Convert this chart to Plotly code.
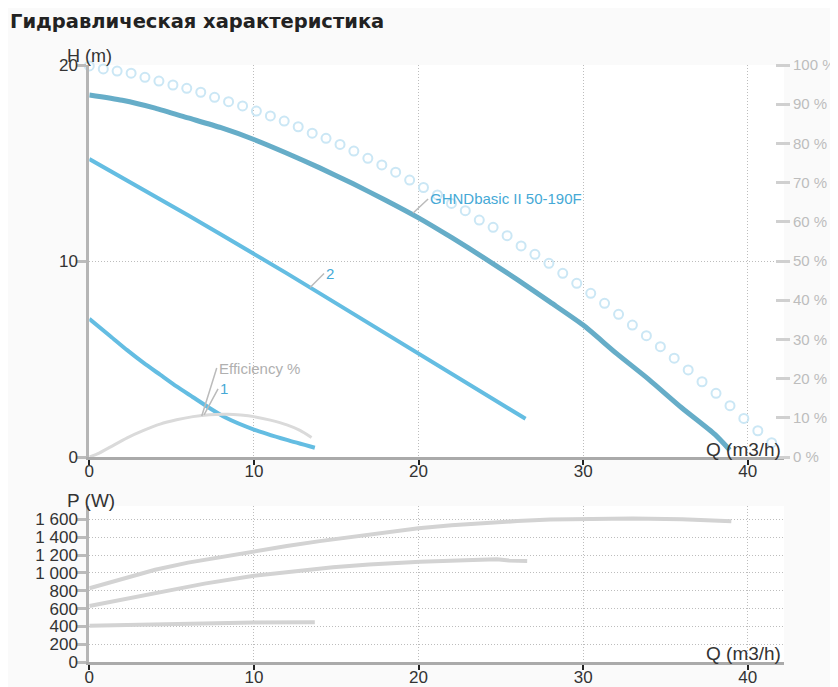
import plotly.graph_objects as go

# Гидравлическая характеристика насоса GHNDbasic II 50-190F
# Q в m3/h, H в m, КПД в %, P в W

# max curve (open circles)
q_max = [0, 0.85, 1.69, 2.54, 3.38, 4.23, 5.08, 5.92, 6.77, 7.61,
         8.46, 9.31, 10.15, 11.00, 11.84, 12.69, 13.54, 14.38, 15.23, 16.07,
         16.92, 17.77, 18.61, 19.46, 20.30, 21.15, 22.00, 22.84, 23.69, 24.53,
         25.38, 26.23, 27.07, 27.92, 28.76, 29.61, 30.46, 31.30, 32.15, 32.99,
         33.84, 34.69, 35.53, 36.38, 37.22, 38.07, 38.92, 39.76, 40.61, 41.45]
h_max = [19.95, 19.80, 19.69, 19.58, 19.37, 19.18, 18.98, 18.81, 18.61, 18.35,
         18.13, 17.91, 17.65, 17.40, 17.14, 16.85, 16.52, 16.26, 15.95, 15.61,
         15.24, 14.90, 14.53, 14.13, 13.75, 13.37, 12.94, 12.57, 12.09, 11.72,
         11.29, 10.77, 10.34, 9.88, 9.37, 8.86, 8.35, 7.84, 7.28, 6.73,
         6.19, 5.63, 5.04, 4.44, 3.84, 3.25, 2.62, 1.97, 1.34, 0.73]

# main curve
q_main = [0, 2, 4, 6, 8, 10, 12, 14, 16, 18, 20, 22, 24, 26, 28, 30, 32, 34, 36, 38, 38.9]
h_main = [18.47, 18.2, 17.8, 17.3, 16.8, 16.2, 15.5, 14.75, 13.95, 13.1, 12.2,
          11.2, 10.15, 9.05, 7.9, 6.73, 5.3, 3.95, 2.5, 1.15, 0.36]

# curve 2
q_2 = [0, 2, 4, 6, 8, 10, 12, 14, 16, 18, 20, 22, 24, 26, 26.5]
h_2 = [15.2, 14.26, 13.3, 12.33, 11.35, 10.37, 9.37, 8.35, 7.32, 6.29, 5.25, 4.22, 3.2, 2.2, 1.95]

# curve 1
q_1 = [0, 1.3, 2.3, 3.3, 4.3, 5.3, 6.3, 7.3, 8.3, 10.0, 12.0, 13.7]
h_1 = [7.05, 6.15, 5.45, 4.8, 4.2, 3.6, 3.05, 2.5, 2.0, 1.4, 0.87, 0.47]

# efficiency
q_eff = [0, 0.6, 1.3, 2.3, 3.3, 4.3, 5.3, 6.3, 7.3, 8.4, 9.2, 10.0, 11.0, 12.0, 12.8, 13.5]
eff = [0, 1.0, 2.6, 4.9, 6.8, 8.4, 9.5, 10.3, 10.8, 10.9, 10.7, 10.3, 9.4, 8.2, 6.8, 5.0]

# power
q_p_main = [0, 2, 4, 6, 8, 10, 12, 14, 16, 18, 20, 22, 24, 26, 28, 30, 33, 36, 38, 39]
p_main = [828, 935, 1035, 1115, 1180, 1237, 1300, 1355, 1405, 1455, 1499, 1532, 1560,
          1580, 1598, 1605, 1607, 1600, 1585, 1577]
q_p_2 = [0, 2, 4.7, 7, 10, 12, 14.8, 17, 20.1, 23.3, 24.75, 25.5, 26.6]
p_2 = [630, 700, 790, 880, 969, 1010, 1063, 1095, 1125, 1144, 1152, 1138, 1133]
q_p_1 = [0, 3, 6.7, 10, 13.7]
p_1 = [410, 420, 436, 445, 447]

q_ticks = [0, 10, 20, 30, 40]
h_ticks = [0, 10, 20]
eff_ticks = [0, 10, 20, 30, 40, 50, 60, 70, 80, 90, 100]
eff_ticktext = ["0 %", "10 %", "20 %", "30 %", "40 %", "50 %", "60 %", "70 %", "80 %", "90 %", "100 %"]
p_ticks = [0, 200, 400, 600, 800, 1000, 1200, 1400, 1600]
p_ticktext = ["0", "200", "400", "600", "800", "1 000", "1 200", "1 400", "1 600"]

FONT = "Liberation Sans, Arial, sans-serif"
BLUE = "#64bde2"
TEAL = "#66adc8"
GREY = "#d3d3d3"

# page body adds 8px, so the figure is 8px smaller and coords shifted
W, H = 830, 679

fig = go.Figure()

fig.add_trace(go.Scatter(x=q_max, y=h_max, mode="markers", cliponaxis=False,
                         marker=dict(symbol="circle-open", size=9, color="#cbe7f5", line=dict(width=2)),
                         xaxis="x", yaxis="y"))
fig.add_trace(go.Scatter(x=q_eff, y=eff, mode="lines", line=dict(color="#dadada", width=3, shape="spline", smoothing=0.6),
                         xaxis="x", yaxis="y3"))
fig.add_trace(go.Scatter(x=q_main, y=h_main, mode="lines", line=dict(color=TEAL, width=5, shape="spline", smoothing=0.6),
                         xaxis="x", yaxis="y"))
fig.add_trace(go.Scatter(x=q_2, y=h_2, mode="lines", line=dict(color=BLUE, width=4),
                         xaxis="x", yaxis="y"))
fig.add_trace(go.Scatter(x=q_1, y=h_1, mode="lines", line=dict(color=BLUE, width=4, shape="spline", smoothing=0.6),
                         xaxis="x", yaxis="y"))

for qq, pp in [(q_p_main, p_main), (q_p_2, p_2), (q_p_1, p_1)]:
    fig.add_trace(go.Scatter(x=qq, y=pp, mode="lines", line=dict(color=GREY, width=4),
                             xaxis="x2", yaxis="y2"))

xdom = [81.3 / W, 776 / W]
xcommon = dict(domain=xdom, range=[0, 42.2], tickvals=q_ticks, ticks="outside", ticklen=5,
               tickwidth=2, tickcolor="#222", showline=True, linecolor="#aaaaaa", linewidth=3,
               showgrid=True, gridcolor="#bdbdbd", griddash="1px,2px", gridwidth=1, zeroline=False,
               ticklabelstandoff=-8, tickfont=dict(size=17, color="#333"))
ycommon = dict(ticks="outside", ticklen=10, tickwidth=3, tickcolor="#bbbbbb", showline=True,
               linecolor="#b5b5b5", linewidth=3, showgrid=True, gridcolor="#bdbdbd",
               griddash="1px,2px", gridwidth=1, zeroline=False, ticklabelstandoff=-5,
               tickfont=dict(size=17, color="#333"))

fig.update_layout(
    width=W, height=H,
    margin=dict(l=0, r=0, t=0, b=0, autoexpand=False),
    paper_bgcolor="#fafafa", plot_bgcolor="#ffffff",
    font=dict(family=FONT, color="#333"),
    showlegend=False,
    xaxis=dict(anchor="y", **xcommon),
    yaxis=dict(domain=[1 - 449 / H, 1 - 57 / H], range=[0, 20], tickvals=h_ticks, **ycommon),
    yaxis3=dict(overlaying="y", side="right", anchor="free", position=767 / W, range=[0, 100],
                tickvals=eff_ticks, ticktext=eff_ticktext, ticks="outside", ticklen=14, tickwidth=3,
                tickcolor="#d0d0d0", showgrid=False, showline=False, zeroline=False,
                tickfont=dict(size=15, color="#bdbdbd")),
    xaxis2=dict(anchor="y2", **xcommon),
    yaxis2=dict(domain=[1 - 654.3 / H, 1 - 498 / H], range=[0, 1748], tickvals=p_ticks,
                ticktext=p_ticktext, **ycommon),
)

ann = [
    dict(text="<b>Гидравлическая характеристика</b>", xref="paper", yref="paper", x=0,
         y=1, xanchor="left", yanchor="top", showarrow=False,
         font=dict(family="DejaVu Sans, sans-serif", size=19.5, color="#222")),
    dict(text="H (m)", xref="paper", yref="paper", x=57 / W, y=1 - 48 / H,
         xanchor="left", yanchor="middle", showarrow=False, font=dict(size=18, color="#333")),
    dict(text="Q (m3/h)", xref="paper", yref="paper", x=775 / W, y=1 - 441 / H,
         xanchor="right", yanchor="middle", showarrow=False, font=dict(size=19, color="#333")),
    dict(text="P (W)", xref="paper", yref="paper", x=57 / W, y=1 - 492 / H,
         xanchor="left", yanchor="middle", showarrow=False, font=dict(size=19, color="#333")),
    dict(text="Q (m3/h)", xref="paper", yref="paper", x=775 / W, y=1 - 645 / H,
         xanchor="right", yanchor="middle", showarrow=False, font=dict(size=19, color="#333")),
    # curve labels
    dict(text="GHNDbasic II 50-190F", xref="x", yref="y", x=19.67, y=12.45, ax=15, ay=-14,
         xanchor="left", yanchor="middle", showarrow=True, arrowhead=0, arrowwidth=1.5,
         arrowcolor="#bbbbbb", font=dict(size=15, color="#45a9d6")),
    dict(text="2", xref="x", yref="y", x=13.41, y=8.65, ax=14, ay=-14,
         xanchor="left", yanchor="middle", showarrow=True, arrowhead=0, arrowwidth=1.5,
         arrowcolor="#bbbbbb", font=dict(size=15, color="#45a9d6")),
    dict(text="1", xref="x", yref="y", x=6.97, y=2.15, ax=14, ay=-26,
         xanchor="left", yanchor="middle", showarrow=True, arrowhead=0, arrowwidth=1.5,
         arrowcolor="#bbbbbb", font=dict(size=15, color="#45a9d6")),
    dict(text="Efficiency %", xref="x", yref="y", x=6.83, y=2.09, ax=15, ay=-48,
         xanchor="left", yanchor="middle", showarrow=True, arrowhead=0, arrowwidth=1.5,
         arrowcolor="#bbbbbb", font=dict(size=15, color="#b0b0b0")),
]
fig.update_layout(annotations=ann)

fig.write_html("out.html")
